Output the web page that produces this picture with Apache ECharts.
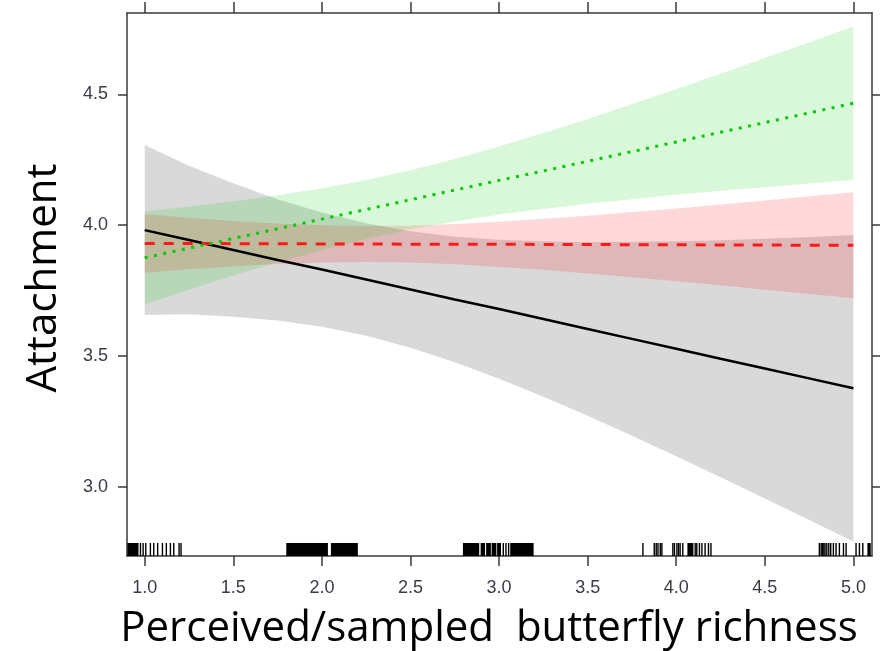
<!DOCTYPE html>
<html>
<head>
<meta charset="utf-8">
<script src="https://cdn.jsdelivr.net/npm/echarts@6/dist/echarts.min.js"></script>
<style>
  html, body { margin: 0; padding: 0; background: #fff; }
  #chart { width: 887px; height: 651px; }
</style>
</head>
<body>
<div id="chart"></div>
<script>
// Predictor values at which fitted lines and confidence bands are evaluated
const richness = [1.00, 1.25, 1.50, 1.75, 2.00, 2.25, 2.50, 2.75, 3.00, 3.25, 3.50, 3.75, 4.00, 4.25, 4.50, 4.75, 5.00];

// Black group: fit and 95% band
const blackFit   = [3.981, 3.943, 3.905, 3.867, 3.830, 3.792, 3.754, 3.716, 3.679, 3.641, 3.603, 3.565, 3.527, 3.489, 3.452, 3.414, 3.376];
const blackLower = [3.656, 3.659, 3.650, 3.635, 3.611, 3.577, 3.531, 3.476, 3.413, 3.344, 3.271, 3.195, 3.116, 3.036, 2.955, 2.873, 2.790];
const blackUpper = [4.306, 4.227, 4.160, 4.099, 4.048, 4.007, 3.977, 3.956, 3.944, 3.938, 3.935, 3.936, 3.938, 3.942, 3.948, 3.955, 3.962];

// Red group: fit and 95% band
const redFit   = [3.930, 3.930, 3.929, 3.929, 3.928, 3.928, 3.927, 3.927, 3.927, 3.926, 3.926, 3.925, 3.925, 3.924, 3.924, 3.923, 3.923];
const redLower = [3.818, 3.831, 3.842, 3.851, 3.857, 3.859, 3.857, 3.850, 3.840, 3.829, 3.815, 3.801, 3.785, 3.770, 3.753, 3.737, 3.720];
const redUpper = [4.042, 4.028, 4.016, 4.006, 4.000, 3.997, 3.998, 4.004, 4.013, 4.024, 4.036, 4.050, 4.064, 4.079, 4.094, 4.110, 4.126];

// Green group: fit and 95% band
const greenFit   = [3.875, 3.912, 3.949, 3.986, 4.023, 4.060, 4.097, 4.134, 4.171, 4.207, 4.244, 4.281, 4.318, 4.355, 4.392, 4.429, 4.466];
const greenLower = [3.697, 3.753, 3.807, 3.858, 3.905, 3.947, 3.984, 4.014, 4.041, 4.062, 4.082, 4.099, 4.116, 4.131, 4.145, 4.159, 4.173];
const greenUpper = [4.053, 4.071, 4.091, 4.114, 4.141, 4.173, 4.210, 4.253, 4.301, 4.352, 4.406, 4.463, 4.520, 4.579, 4.639, 4.699, 4.759];

// Rug of observed (jittered) richness values: [from, to]; a single value is one tick
const rug = [
  [0.902, 0.965], [0.976], [0.991], [1.006], [1.032], [1.051], [1.073], [1.100], [1.122], [1.145], [1.164], [1.194], [1.205],
  [1.799, 2.034], [2.051, 2.203],
  [2.796, 2.888], [2.896, 2.921], [2.927, 2.954], [2.958, 2.985], [2.989, 3.011], [3.024], [3.039], [3.054], [3.063, 3.195],
  [3.812], [3.876], [3.887], [3.897], [3.910], [3.919],
  [3.981], [3.990], [4.004], [4.013], [4.022], [4.037], [4.063, 4.097], [4.107], [4.116], [4.131], [4.145], [4.163], [4.182], [4.196],
  [4.808], [4.818], [4.825], [4.833], [4.840], [4.850], [4.861], [4.872], [4.887], [4.902], [4.921], [4.944], [4.959],
  [5.015], [5.034], [5.053], [5.079, 5.098]
];

// Tick labels
const xTicks = [1.0, 1.5, 2.0, 2.5, 3.0, 3.5, 4.0, 4.5, 5.0];
const yTicks = [3.0, 3.5, 4.0, 4.5];

const X_MIN = 0.9, X_MAX = 5.105;
const Y_MIN = 2.735, Y_MAX = 4.811;

const chart = echarts.init(document.getElementById('chart'), null, { renderer: 'canvas' });

function bandSeries(lower, upper, fill) {
  return {
    type: 'custom',
    silent: true,
    clip: true,
    z: 1,
    data: [[richness[0], lower[0]]],
    renderItem: function (params, api) {
      const lo = richness.map((x, i) => api.coord([x, lower[i]]));
      const hi = richness.map((x, i) => api.coord([x, upper[i]])).reverse();
      return {
        type: 'polygon',
        shape: { points: lo.concat(hi) },
        style: { fill: fill }
      };
    }
  };
}

function lineSeries(values, color, width, dash) {
  return {
    type: 'line',
    silent: true,
    z: 3,
    showSymbol: false,
    symbol: 'none',
    data: richness.map((x, i) => [x, values[i]]),
    lineStyle: { color: color, width: width, type: dash }
  };
}

const tickFont = { fontFamily: '"Liberation Sans Narrow", "Liberation Sans", Arial, sans-serif', fontSize: 18, color: '#3b3b48' };
const frame = { show: true, lineStyle: { color: '#3a3a3a', width: 1.5 } };

const option = {
  animation: false,
  backgroundColor: '#fff',
  grid: { left: 127, right: 15, top: 13, bottom: 95, containLabel: false },
  xAxis: [
    {
      type: 'value', position: 'bottom', min: X_MIN, max: X_MAX,
      axisLine: frame, splitLine: { show: false },
      axisTick: { show: true, length: 10, customValues: xTicks, lineStyle: { color: '#3a3a3a', width: 1.5 } },
      axisLabel: Object.assign({ show: true, margin: 23, customValues: xTicks, formatter: v => v.toFixed(1) }, tickFont)
    },
    {
      type: 'value', position: 'top', min: X_MIN, max: X_MAX,
      axisLine: frame, splitLine: { show: false },
      axisTick: { show: true, length: 11, customValues: xTicks, lineStyle: { color: '#3a3a3a', width: 1.5 } },
      axisLabel: { show: false }
    }
  ],
  yAxis: [
    {
      type: 'value', position: 'left', min: Y_MIN, max: Y_MAX,
      axisLine: frame, splitLine: { show: false },
      axisTick: { show: true, length: 9, customValues: yTicks, lineStyle: { color: '#3a3a3a', width: 1.5 } },
      axisLabel: Object.assign({ show: true, margin: 19, customValues: yTicks, formatter: v => v.toFixed(1) }, tickFont)
    },
    {
      type: 'value', position: 'right', min: Y_MIN, max: Y_MAX,
      axisLine: frame, splitLine: { show: false },
      axisTick: { show: true, length: 8, customValues: yTicks, lineStyle: { color: '#3a3a3a', width: 1.5 } },
      axisLabel: { show: false }
    }
  ],
  series: [
    bandSeries(blackLower, blackUpper, 'rgba(0,0,0,0.15)'),
    bandSeries(redLower, redUpper, 'rgba(255,0,0,0.15)'),
    bandSeries(greenLower, greenUpper, 'rgba(0,205,0,0.15)'),
    lineSeries(blackFit, '#000000', 2.5, 'solid'),
    lineSeries(redFit, '#ff1a1a', 3, [10, 9]),
    lineSeries(greenFit, '#00cc00', 3, [3, 6.5]),
    {
      // rug along the bottom of the panel
      type: 'custom',
      silent: true,
      z: 4,
      data: rug.map(r => [r[0], r.length > 1 ? r[1] : r[0]]),
      encode: { x: [0, 1] },
      renderItem: function (params, api) {
        const a = api.coord([api.value(0), Y_MIN]);
        const b = api.coord([api.value(1), Y_MIN]);
        const w = Math.max(b[0] - a[0], 1.4);
        const x0 = b[0] - a[0] < 1.4 ? a[0] - 0.7 : a[0];
        return {
          type: 'rect',
          shape: { x: x0, y: a[1] - 13, width: w, height: 13 },
          style: { fill: '#000' }
        };
      }
    }
  ],
  graphic: [
    {
      type: 'text',
      x: 44, y: 278,
      rotation: Math.PI / 2,
      style: {
        text: 'Attachment',
        font: '42px "Open Sans", "Liberation Sans", sans-serif',
        fill: '#000',
        align: 'center',
        verticalAlign: 'middle'
      }
    },
    {
      type: 'text',
      x: 489, y: 629,
      style: {
        text: 'Perceived/sampled  butterfly richness',
        font: '42px "Open Sans", "Liberation Sans", sans-serif',
        fill: '#000',
        align: 'center',
        verticalAlign: 'middle'
      }
    }
  ]
};

chart.setOption(option);
</script>
</body>
</html>
